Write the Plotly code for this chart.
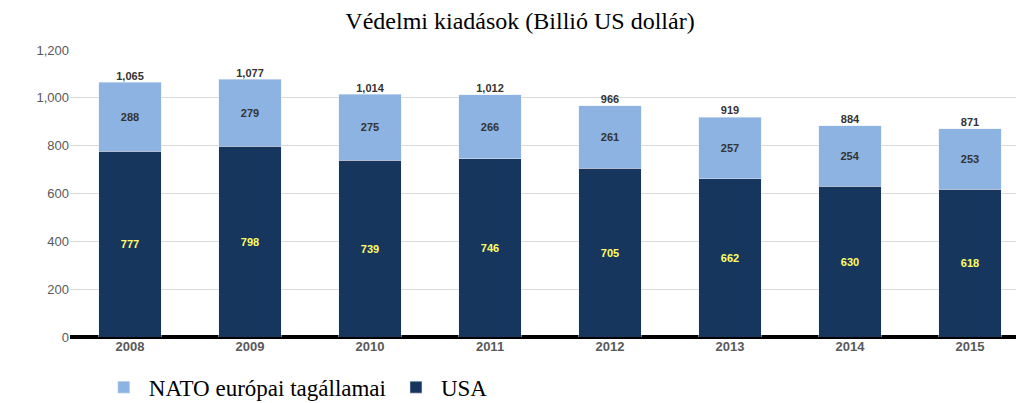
import plotly.graph_objects as go

years = ["2008", "2009", "2010", "2011", "2012", "2013", "2014", "2015"]
usa = [777, 798, 739, 746, 705, 662, 630, 618]
nato_eu = [288, 279, 275, 266, 261, 257, 254, 253]
totals = [1065, 1077, 1014, 1012, 966, 919, 884, 871]

serif = "Times New Roman, Liberation Serif, DejaVu Serif, serif"
sans = "Liberation Sans, Arial, sans-serif"

fig = go.Figure()
fig.add_trace(go.Bar(x=years, y=usa, name="USA", marker_color="#17365d",
                     text=[f"<b>{v}</b>" for v in usa], textposition="inside", insidetextanchor="middle",
                     textfont=dict(color="#ffff66", size=11, family=sans)))
fig.add_trace(go.Bar(x=years, y=nato_eu, name="NATO európai tagállamai", marker_color="#8db3e2",
                     text=[f"<b>{v}</b>" for v in nato_eu], textposition="inside", insidetextanchor="middle",
                     textfont=dict(color="#333333", size=11, family=sans)))
fig.add_trace(go.Scatter(x=years, y=totals, mode="text", showlegend=False,
                         text=[f"<b>{v:,}</b>" for v in totals], textposition="top center",
                         textfont=dict(color="#333333", size=11, family=sans),
                         hoverinfo="skip"))

fig.update_layout(
    barmode="stack", bargap=0.48,
    width=1024, height=403,
    margin=dict(l=62, r=2, t=42, b=71),
    paper_bgcolor="white", plot_bgcolor="white",
    title=dict(text="Védelmi kiadások (Billió US dollár)", x=0.5, xanchor="center", y=0.99, yanchor="top",
               font=dict(family=serif, size=24, color="black")),
    legend=dict(orientation="h", x=0.03, y=-0.1, xanchor="left", yanchor="top",
                traceorder="reversed", font=dict(family=serif, size=23, color="black"),
                itemwidth=40),
    font=dict(family=sans, color="#595959"),
)
fig.update_yaxes(range=[0, 1200], dtick=200, tickformat=",", gridcolor="#d9d9d9",
                 tickfont=dict(size=13, family=sans, color="#595959"),
                 zeroline=True, zerolinecolor="black", zerolinewidth=4)
fig.update_xaxes(tickfont=dict(size=13, family=sans, color="#595959"), ticks="", showline=False,
                 tickvals=years, ticktext=[f"<b>{y}</b>" for y in years])

fig.write_html("out.html")
